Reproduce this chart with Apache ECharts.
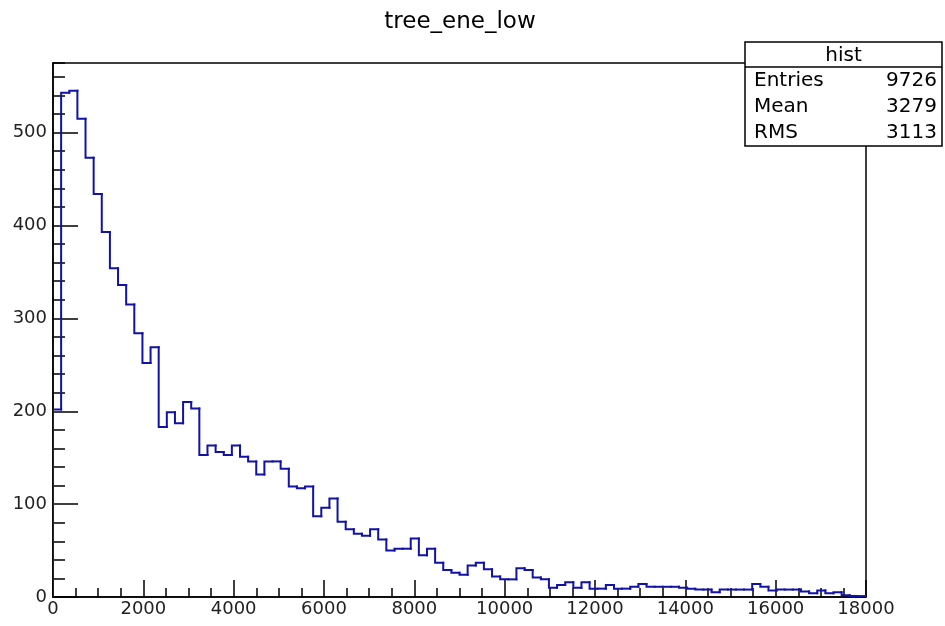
<!DOCTYPE html>
<html>
<head>
<meta charset="utf-8">
<script src="https://cdn.jsdelivr.net/npm/echarts@6/dist/echarts.min.js"></script>
<style>
  html, body { margin: 0; padding: 0; background: #fff; }
  #chart { width: 945px; height: 626px; }
</style>
</head>
<body>
<div id="chart"></div>
<script>
// Histogram binning
const X_MIN = 0;
const X_MAX = 18000;
const N_BINS = 100;

// Bin contents of "hist" (tree_ene_low), one entry per bin
const counts = [
  202, 543, 545, 515, 473, 434, 393, 354, 336, 315,
  284, 252, 269, 183, 199, 187, 210, 203, 153, 163,
  156, 153, 163, 151, 146, 132, 146, 146, 138, 119,
  117, 119,  87,  96, 106,  81,  73,  68,  66,  73,
   62,  50,  52,  52,  63,  45,  52,  37,  29,  26,
   24,  34,  37,  30,  22,  19,  19,  31,  29,  21,
   19,  10,  13,  16,  10,  16,   9,   9,  13,   9,
    9,  11,  14,  11,  11,  11,  11,  10,   9,   8,
    8,   5,   8,   8,   8,   8,  14,  11,   7,   8,
    8,   8,   6,   4,   7,   4,   5,   2,   1,   1
];

// Statistics box
const statsTitle = 'hist';
const statsLabels = ['Entries', 'Mean', 'RMS'];
const statsValues = ['9726', '3279', '3113'];

const chartTitle = 'tree_ene_low';
const Y_MAX = 575;

const binWidth = (X_MAX - X_MIN) / N_BINS;
// One record per bin: [low edge, high edge, content, previous bin content]
const bins = counts.map((c, i) => [
  X_MIN + i * binWidth,
  X_MIN + (i + 1) * binWidth,
  c,
  i === 0 ? 0 : counts[i - 1]
]);

const FONT = 'DejaVu Sans';
const LINE_COLOR = '#1212a6';
const chart = echarts.init(document.getElementById('chart'), null, { renderer: 'canvas' });

const statsX = 745, statsY = 42, statsW = 197, rowH = 26, headH = 25;
const statsGraphics = [
  { type: 'rect', shape: { x: statsX, y: statsY, width: statsW, height: headH + rowH * 3 + 1 },
    style: { fill: '#fff', stroke: '#000', lineWidth: 1.5 }, z: 100 },
  { type: 'line', shape: { x1: statsX, y1: statsY + headH, x2: statsX + statsW, y2: statsY + headH },
    style: { stroke: '#000', lineWidth: 1.5 }, z: 101 },
  { type: 'text', x: statsX + statsW / 2, y: statsY + headH / 2 + 1, z: 101,
    style: { text: statsTitle, font: '20px ' + FONT, fill: '#000', align: 'center', verticalAlign: 'middle' } }
];
statsLabels.forEach((lab, i) => {
  const cy = statsY + headH + rowH * i + rowH / 2 + 1;
  statsGraphics.push({ type: 'text', x: statsX + 9, y: cy, z: 101,
    style: { text: lab, font: '20px ' + FONT, fill: '#000', align: 'left', verticalAlign: 'middle' } });
  statsGraphics.push({ type: 'text', x: statsX + statsW - 5, y: cy, z: 101,
    style: { text: statsValues[i], font: '20px ' + FONT, fill: '#000', align: 'right', verticalAlign: 'middle' } });
});

const plain = v => String(v);

// Each bin draws the rise from the previous content and its own flat top
function renderBin(params, api) {
  const lo = api.value(0), hi = api.value(1), c = api.value(2), prev = api.value(3);
  const pPrev = api.coord([lo, prev]);
  const pTopL = api.coord([lo, c]);
  const pTopR = api.coord([hi, c]);
  return {
    type: 'polyline',
    shape: { points: [pPrev, pTopL, pTopR] },
    style: { stroke: LINE_COLOR, lineWidth: 2, fill: null, lineCap: 'square', lineJoin: 'miter' }
  };
}

chart.setOption({
  animation: false,
  backgroundColor: '#fff',
  title: {
    text: chartTitle, left: 455, top: 6, textAlign: 'center',
    textStyle: { fontFamily: FONT, fontSize: 23, fontWeight: 'normal', color: '#000' }
  },
  grid: {
    left: 53, right: 79, top: 63, bottom: 29,
    show: true, borderColor: '#000', borderWidth: 1.5, backgroundColor: '#fff'
  },
  xAxis: {
    type: 'value', min: X_MIN, max: X_MAX, interval: 2000,
    axisLine: { show: true, onZero: false, lineStyle: { color: '#000', width: 1.5 } },
    axisTick: { show: true, inside: true, length: 17, lineStyle: { color: '#000', width: 1.5 } },
    minorTick: { show: true, splitNumber: 4, length: 9, lineStyle: { color: '#000', width: 1.5 } },
    axisLabel: { fontFamily: FONT, fontSize: 18, color: '#222', margin: 3, formatter: plain },
    splitLine: { show: false }
  },
  yAxis: [
    {
      type: 'value', min: 0, max: Y_MAX, interval: 100,
      axisLine: { show: true, lineStyle: { color: '#000', width: 1.5 } },
      axisTick: { show: true, inside: true, length: 25, lineStyle: { color: '#000', width: 1.5 } },
      axisLabel: { fontFamily: FONT, fontSize: 18, color: '#222', margin: 6, showMaxLabel: false, formatter: plain },
      splitLine: { show: false }
    },
    {
      type: 'value', min: 0, max: Y_MAX, interval: 20, position: 'left', offset: 0,
      axisLine: { show: false },
      axisTick: { show: true, inside: true, length: 12, lineStyle: { color: '#000', width: 1.5 } },
      axisLabel: { show: false },
      splitLine: { show: false }
    }
  ],
  series: [{
    type: 'custom',
    renderItem: renderBin,
    data: bins,
    yAxisIndex: 0,
    encode: { x: [0, 1], y: [2, 3] },
    clip: true,
    z: 5
  }],
  graphic: statsGraphics
});
</script>
</body>
</html>
